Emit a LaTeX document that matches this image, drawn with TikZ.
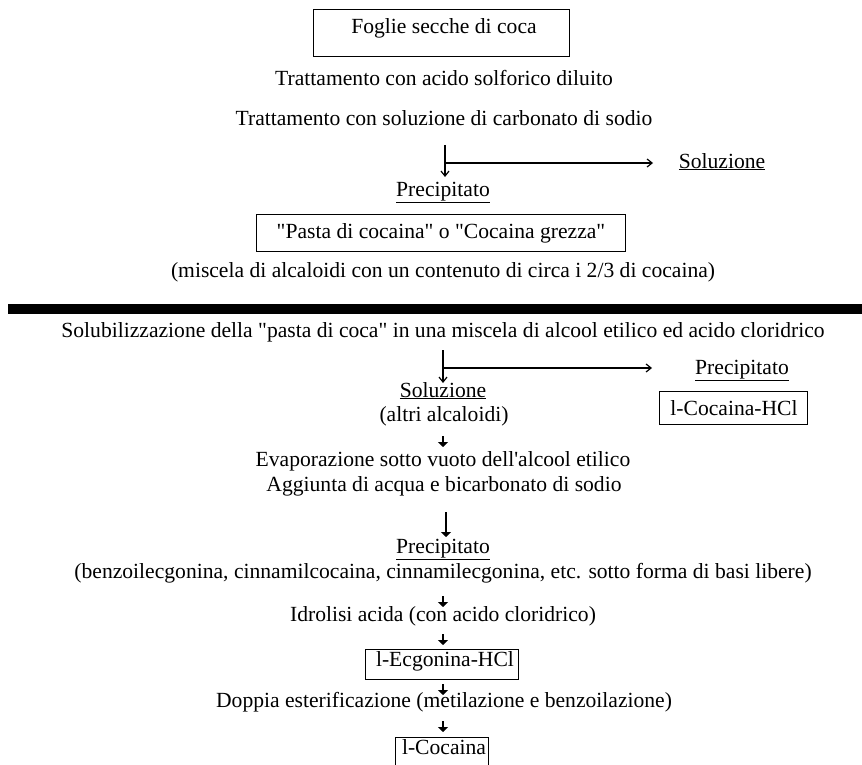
\documentclass[tikz,border=0pt]{standalone}
\usepackage{fontspec}
\setmainfont{Liberation Serif}
\usetikzlibrary{arrows.meta}
\newcommand{\qq}{\textquotedbl}
\begin{document}
\begin{tikzpicture}[x=1pt,y=-1pt,
  txt/.style={inner sep=0pt,anchor=base,font=\fontsize{21.6}{26}\selectfont},
  boxr/.style={draw,line width=0.8pt},
  conn/.style={line width=1.2pt,-{Straight Barb[length=5pt,width=8pt]}},
  stub/.style={line width=2.2pt,-{Triangle[length=5pt,width=10pt]}}]
\useasboundingbox (0,0) rectangle (862,765);
\clip (0,0) rectangle (862,765);
% top part
\draw[boxr] (313,9) rectangle (569,56);
\node[txt] (foglie) at (444,34) {Foglie secche di coca};
\node[txt] (t1) at (444,86) {Trattamento con acido solforico diluito};
\node[txt] (t2) at (444,126) {Trattamento con soluzione di carbonato di sodio};
\coordinate (a1top) at (445,145);
\coordinate (a1mid) at (445,163);
\coordinate (a1end) at (445,177);
\coordinate (a1right) at (653,163);
\draw[line width=1.4pt] (a1top) -- (445,170);
\draw[conn] (445,168) -- (a1end);
\draw[conn] (a1mid) -- (a1right);
\node[txt] (sol1) at (722,168) {\underline{Soluzione}};
\node[txt] (prec1) at (443,196) {\underline{Precipitato}};
\draw[boxr] (256,214) rectangle (625,251);
\node[txt] (pasta) at (441,238) {\qq Pasta di cocaina\qq{} o \qq Cocaina grezza\qq};
\node[txt] (misc) at (443,277) {(miscela di alcaloidi con un contenuto di circa i 2/3 di cocaina)};
% separator bar
\fill (8,304) rectangle (862,314);
% second part
\node[txt] (solub) at (443,337) {Solubilizzazione della \qq pasta di coca\qq{} in una miscela di alcool etilico ed acido cloridrico};
\coordinate (a2top) at (443,350);
\coordinate (a2mid) at (443,368);
\coordinate (a2end) at (443,383);
\coordinate (a2right) at (652,368);
\draw[line width=1.4pt] (a2top) -- (443,376);
\draw[conn] (443,374) -- (a2end);
\draw[conn] (a2mid) -- (a2right);
\node[txt] (prec2) at (742,374) {\underline{Precipitato}};
\draw[boxr] (659,391) rectangle (807,424);
\node[txt] (lcochcl) at (734,415) {l-Cocaina-HCl};
\node[txt] (sol2) at (443,397) {\underline{Soluzione}};
\node[txt] (altri) at (444,421) {(altri alcaloidi)};
\draw[stub] (443,436) -- (443,447);
\node[txt] (evap) at (443,466) {Evaporazione sotto vuoto dell\textquotesingle alcool etilico};
\node[txt] (aggi) at (444,491) {Aggiunta di acqua e bicarbonato di sodio};
\draw[line width=1.6pt] (446,512) -- (446,528);
\draw[stub] (446,526) -- (446,537);
\node[txt] (prec3) at (443,553) {\underline{Precipitato}};
\node[txt] (benz) at (443,578) {(benzoilecgonina, cinnamilcocaina, cinnamilecgonina, etc. sotto forma di basi libere)};
\draw[stub] (443,596) -- (443,607);
\node[txt] (idro) at (443,621) {Idrolisi acida (con acido cloridrico)};
\draw[stub] (443,634) -- (443,645);
\draw[boxr] (365,649) rectangle (518,679);
\node[txt] (ecg) at (445,666) {l-Ecgonina-HCl};
\draw[stub] (443,684) -- (443,695);
\node[txt] (dopp) at (444,707) {Doppia esterificazione (metilazione e benzoilazione)};
\draw[stub] (443,721) -- (443,732);
\draw[boxr] (395,737) rectangle (488,790);
\node[txt] (lcoc) at (444,754) {l-Cocaina};
\end{tikzpicture}
\end{document}
